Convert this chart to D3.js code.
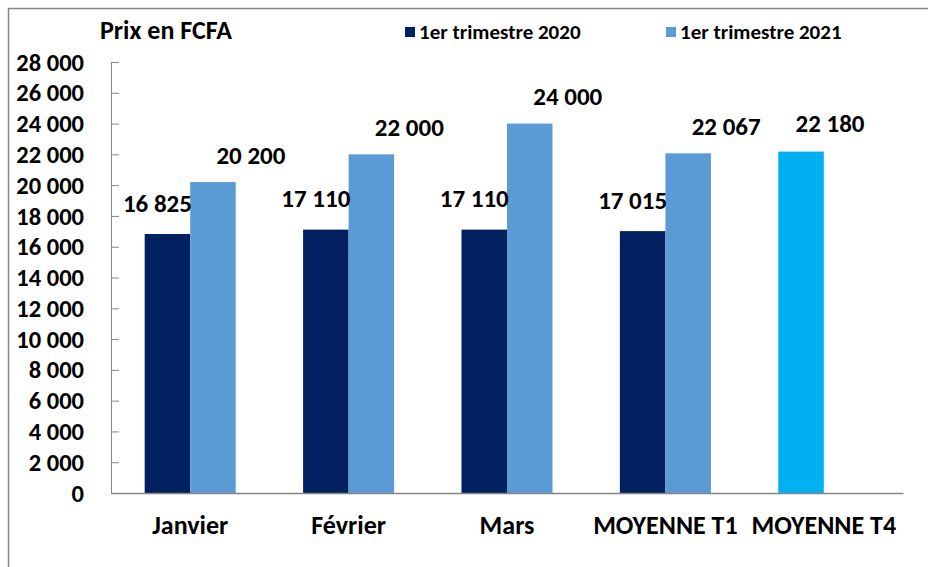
<!DOCTYPE html>
<html>
<head>
<meta charset="utf-8">
<script src="https://cdn.jsdelivr.net/npm/d3@7"></script>
<style>
  body { margin: 0; background: #fff; }
  text { font-family: Carlito, Calibri, Lato, sans-serif; font-weight: bold; fill: #000; }
</style>
</head>
<body>
<div id="chart"></div>
<script>
// Data
const categories = ["Janvier", "Février", "Mars", "MOYENNE T1", "MOYENNE T4"];
const seriesNames = ["1er trimestre 2020", "1er trimestre 2021"];
const values2020 = [16825, 17110, 17110, 17015, null];
const values2021 = [20200, 22000, 24000, 22067, null];
const moyenneT4 = 22180;
const yTicks = [0, 2000, 4000, 6000, 8000, 10000, 12000, 14000, 16000, 18000, 20000, 22000, 24000, 26000, 28000];

const width = 928;
const height = 567;
const margin = { top: 62, right: 25, bottom: 74, left: 111 };
const colors = { "1er trimestre 2020": "#002060", "1er trimestre 2021": "#5b9bd5", t4: "#00b0f0" };

const fr = d3.formatLocale({ decimal: ",", thousands: " ", grouping: [3], currency: ["", ""] });
const fmt = fr.format(",");

const svg = d3
  .select("#chart")
  .append("svg")
  .attr("width", width)
  .attr("height", height);

// chart frame (only top and left edges are visible)
svg
  .append("rect")
  .attr("x", 8.5)
  .attr("y", 8.5)
  .attr("width", width + 20)
  .attr("height", height + 20)
  .attr("fill", "none")
  .attr("stroke", "#858585")
  .attr("stroke-width", 1.5);

const x0 = d3
  .scaleBand()
  .domain(categories)
  .range([margin.left, width - margin.right]);

const x1 = d3
  .scaleBand()
  .domain(seriesNames)
  .range([0, x0.bandwidth()])
  .paddingOuter(0.74);

const yScale = d3
  .scaleLinear()
  .domain([0, 28000])
  .range([height - margin.bottom, margin.top]);

// Bars
const rows = [];
categories.forEach(function (c, i) {
  if (values2020[i] != null) rows.push({ cat: c, series: seriesNames[0], value: values2020[i], color: colors[seriesNames[0]], dx: -10, dy: -31 });
  if (values2021[i] != null) rows.push({ cat: c, series: seriesNames[1], value: values2021[i], color: colors[seriesNames[1]], dx: 38, dy: -27 });
});
rows.push({ cat: "MOYENNE T4", series: seriesNames[0], value: moyenneT4, color: colors.t4, dx: 29, dy: -28 });

svg
  .selectAll("rect.bar")
  .data(rows)
  .enter()
  .append("rect")
  .attr("class", "bar")
  .attr("x", (d) => x0(d.cat) + x1(d.series))
  .attr("y", (d) => yScale(d.value))
  .attr("width", x1.bandwidth())
  .attr("height", (d) => yScale(0) - yScale(d.value))
  .attr("fill", (d) => d.color);

// Value labels
svg
  .selectAll("text.val")
  .data(rows)
  .enter()
  .append("text")
  .attr("class", "val")
  .attr("x", (d) => x0(d.cat) + x1(d.series) + x1.bandwidth() / 2 + d.dx)
  .attr("y", (d) => yScale(d.value) + d.dy)
  .attr("dy", "0.35em")
  .attr("text-anchor", "middle")
  .style("font-size", "25px")
  .text((d) => fmt(d.value));

// Axis
const yAxis = svg
  .append("g")
  .attr("transform", `translate(${margin.left}, 0)`)
  .call(d3.axisRight(yScale).tickValues(yTicks).tickSize(8).tickFormat(""));
yAxis.selectAll("path, line").attr("stroke", "#868686");

svg
  .selectAll("text.ytick")
  .data(yTicks)
  .enter()
  .append("text")
  .attr("class", "ytick")
  .attr("x", 84)
  .attr("y", (d) => yScale(d))
  .attr("dy", "0.35em")
  .attr("text-anchor", "end")
  .style("font-size", "24.5px")
  .text((d) => fmt(d));

const xAxis = svg
  .append("g")
  .attr("transform", `translate(0, ${yScale(0)})`)
  .call(d3.axisBottom(x0).tickSize(0).tickPadding(23));
xAxis.select(".domain").attr("stroke", "#868686").attr("stroke-width", 1.5);
xAxis.selectAll("text").style("font-size", "26px").attr("dy", "0.71em");
xAxis.attr("font-family", null).attr("font-size", null);

// Title
svg
  .append("text")
  .attr("x", 100)
  .attr("y", 39)
  .style("font-size", "26px")
  .text("Prix en FCFA");

// Legend
const legendX = [405, 666];
const legend = svg
  .selectAll("g.legend")
  .data(seriesNames)
  .enter()
  .append("g")
  .attr("class", "legend")
  .attr("transform", (d, i) => `translate(${legendX[i]}, 27)`);

legend
  .append("rect")
  .attr("width", 10)
  .attr("height", 10)
  .attr("fill", (d) => colors[d]);

legend
  .append("text")
  .attr("x", 14)
  .attr("y", 5)
  .attr("dy", "0.35em")
  .style("font-size", "21px")
  .text((d) => d);
</script>
</body>
</html>
